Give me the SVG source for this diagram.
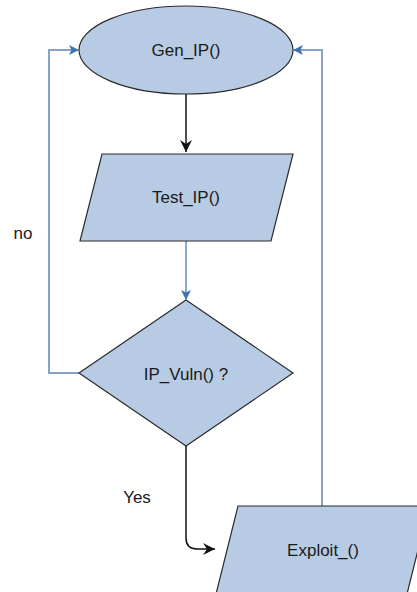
<svg xmlns="http://www.w3.org/2000/svg" width="417" height="592" viewBox="0 0 417 592">
  <style>
    .shape { fill: #b8cbe4; stroke: #2b2b2b; stroke-width: 1.2; }
    .label { font-family: "Liberation Sans", Arial, sans-serif; font-size: 17px; fill: #1a1a1a; text-anchor: middle; dominant-baseline: central; }
    .loop { fill: none; stroke: #85a3c9; stroke-width: 2; }
    .flow { fill: none; stroke: #3c6fae; stroke-width: 1.2; }
    .main { fill: none; stroke: #111; stroke-width: 1.5; }
  </style>
  <defs>
    <marker id="blockBlue" viewBox="0 0 10 10" refX="9" refY="5" markerWidth="10" markerHeight="10" markerUnits="userSpaceOnUse" orient="auto">
      <path d="M0,0 L10,5 L0,10 L2.5,5 Z" fill="#3d73b0"/>
    </marker>
    <marker id="openBlack" viewBox="0 0 14 14" refX="13" refY="7" markerWidth="14" markerHeight="14" markerUnits="userSpaceOnUse" orient="auto">
      <path d="M1,1 L13,7 L1,13 L5,7 Z" fill="#111"/>
    </marker>
  </defs>

  <g id="connectors">
    <!-- Gen_IP -> Test_IP -->
    <line class="main" x1="186" y1="94" x2="186" y2="152" marker-end="url(#openBlack)"/>
    <!-- Test_IP -> IP_Vuln -->
    <line class="flow" x1="186" y1="241" x2="186" y2="299" marker-end="url(#blockBlue)"/>
    <!-- no: IP_Vuln -> Gen_IP -->
    <polyline class="loop" points="79,373 49,373 49,50 78,50" marker-end="url(#blockBlue)"/>
    <!-- Yes: IP_Vuln -> Exploit -->
    <path class="main" d="M186,446 L186,538 Q186,549 197,549 L215,549" marker-end="url(#openBlack)"/>
    <!-- Exploit -> Gen_IP -->
    <polyline class="loop" points="322,506 322,50 294,50" marker-end="url(#blockBlue)"/>
  </g>

  <g id="gen-ip">
    <ellipse class="shape" cx="186" cy="50" rx="107" ry="44"/>
    <text class="label" x="186" y="50">Gen_IP()</text>
  </g>

  <g id="test-ip">
    <polygon class="shape" points="102,154 293,154 271,241 80,241"/>
    <text class="label" x="186" y="197">Test_IP()</text>
  </g>

  <g id="ip-vuln">
    <polygon class="shape" points="186,300 293,373 186,446 79,373"/>
    <text class="label" x="186" y="374">IP_Vuln() ?</text>
  </g>

  <g id="exploit">
    <polygon class="shape" points="238,506 429,506 407,594 216,594"/>
    <text class="label" x="323" y="550">Exploit_()</text>
  </g>

  <g id="edge-labels">
    <text class="label" x="23" y="233">no</text>
    <text class="label" x="137" y="497">Yes</text>
  </g>
</svg>
